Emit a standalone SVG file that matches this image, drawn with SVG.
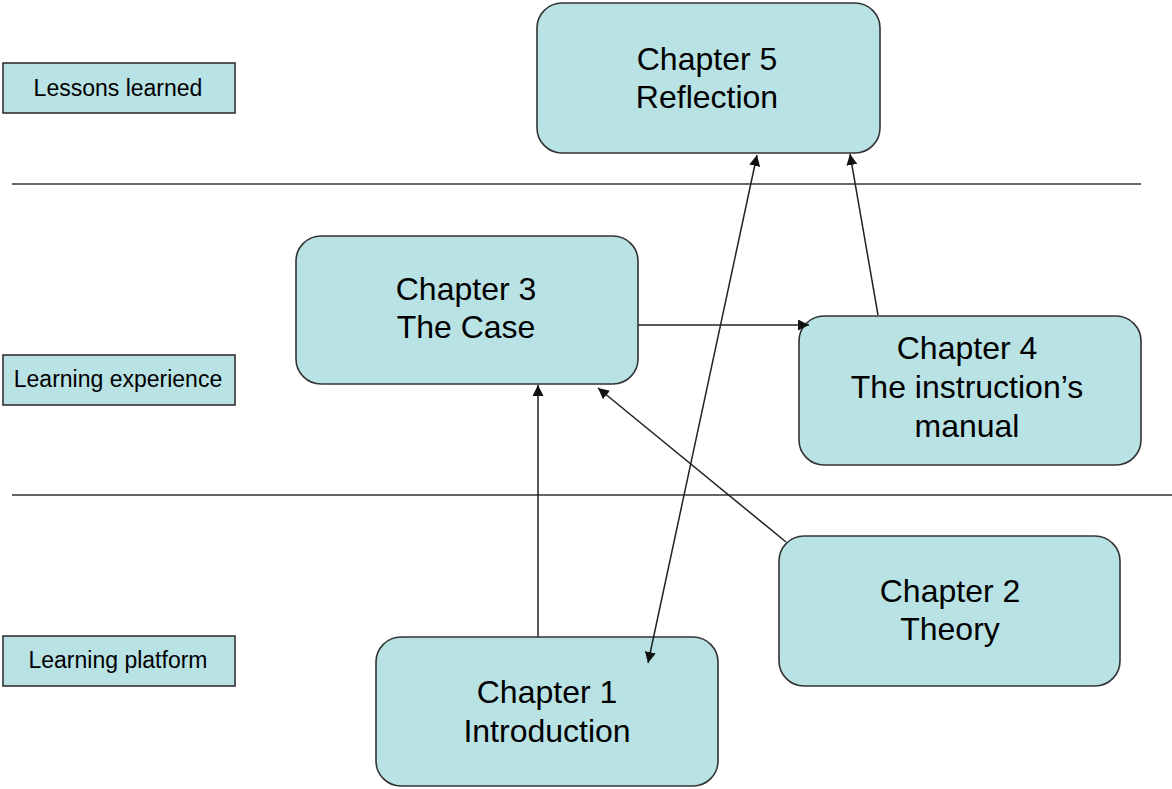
<svg xmlns="http://www.w3.org/2000/svg" width="1172" height="789" viewBox="0 0 1172 789">
<style>
.node{fill:#b8e2e4;stroke:#333;stroke-width:1.6}
.lbl{fill:#b8e2e4;stroke:#333;stroke-width:1.6}
.t{font-family:"Liberation Sans",Arial,sans-serif;font-size:32px;fill:#000;text-anchor:middle}
.s{font-family:"Liberation Sans",Arial,sans-serif;font-size:23px;fill:#000;text-anchor:middle}
.c{stroke:#222;stroke-width:1.5;fill:none}
.sep{stroke:#333;stroke-width:1.5}
</style>
<defs>
<marker id="ah" viewBox="0 0 10 10" refX="10" refY="5" markerWidth="11" markerHeight="11" markerUnits="userSpaceOnUse" orient="auto-start-reverse">
<path d="M0,0 L10,5 L0,10 z" fill="#111"/>
</marker>
</defs>
<rect width="1172" height="789" fill="#fff"/>
<g id="separators">
<line class="sep" x1="12" y1="184" x2="1141" y2="184"/>
<line class="sep" x1="12" y1="495" x2="1172" y2="495"/>
</g>
<g id="lbl-lessons"><rect class="lbl" x="3" y="63" width="232" height="50"/><text class="s" x="118" y="96">Lessons learned</text></g>
<g id="lbl-experience"><rect class="lbl" x="3" y="355" width="232" height="50"/><text class="s" x="118" y="387">Learning experience</text></g>
<g id="lbl-platform"><rect class="lbl" x="3" y="636" width="232" height="50"/><text class="s" x="118" y="668">Learning platform</text></g>
<g id="ch5"><rect class="node" x="537" y="3" width="343" height="150" rx="25"/><text class="t" x="707" y="70">Chapter 5</text><text class="t" x="707" y="108">Reflection</text></g>
<g id="ch3"><rect class="node" x="296" y="236" width="342" height="148" rx="25"/><text class="t" x="466" y="300">Chapter 3</text><text class="t" x="466" y="338">The Case</text></g>
<g id="ch4"><rect class="node" x="799" y="316" width="342" height="149" rx="25"/><text class="t" x="967" y="359">Chapter 4</text><text class="t" x="967" y="398">The instruction’s</text><text class="t" x="967" y="437">manual</text></g>
<g id="ch2"><rect class="node" x="779" y="536" width="341" height="150" rx="25"/><text class="t" x="950" y="602">Chapter 2</text><text class="t" x="950" y="640">Theory</text></g>
<g id="ch1"><rect class="node" x="376" y="637" width="342" height="149" rx="25"/><text class="t" x="547" y="703">Chapter 1</text><text class="t" x="547" y="742">Introduction</text></g>
<g id="connectors">
<line class="c" x1="538" y1="637" x2="538" y2="385" marker-end="url(#ah)"/>
<line class="c" x1="638" y1="325" x2="809" y2="325" marker-end="url(#ah)"/>
<line class="c" x1="786" y1="542" x2="598" y2="388" marker-end="url(#ah)"/>
<line class="c" x1="878" y1="315" x2="850" y2="154" marker-end="url(#ah)"/>
<line class="c" x1="648" y1="663" x2="757" y2="155" marker-start="url(#ah)" marker-end="url(#ah)"/>
</g>
</svg>
